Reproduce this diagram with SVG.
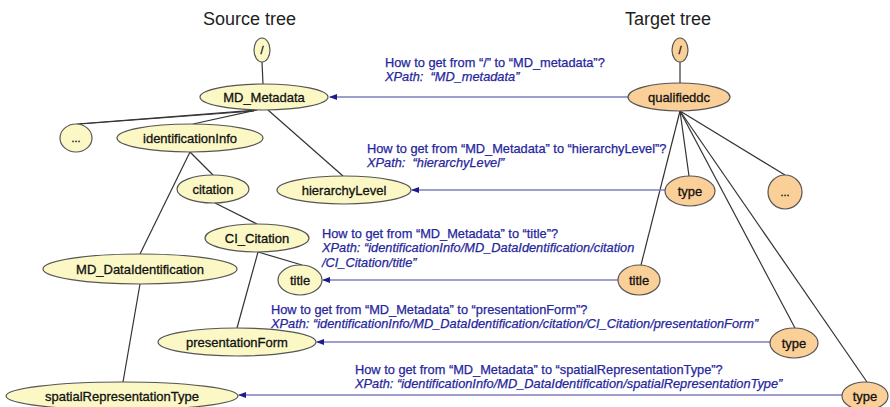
<svg xmlns="http://www.w3.org/2000/svg" width="890" height="407" viewBox="0 0 890 407">
  <style>
    .title { font-family: "Liberation Sans", Arial, sans-serif; font-size: 18px; fill: #222; }
    .src ellipse { fill: #fbf8c6; stroke: #555; stroke-width: 1.2; }
    .tgt ellipse { fill: #fbcf98; stroke: #555; stroke-width: 1.2; }
    .lbl { font-family: "Liberation Sans", Arial, sans-serif; font-size: 13px; fill: #111; stroke: #111; stroke-width: 0.3; text-anchor: middle; dominant-baseline: central; }
    .small { font-size: 11px; }
    .edge { stroke: #333; stroke-width: 1.2; fill: none; }
    .map { stroke: #7f7fbf; stroke-width: 1.6; fill: none; marker-end: url(#arr); }
    .q { font-family: "Liberation Sans", Arial, sans-serif; font-size: 12.8px; fill: #26269c; stroke: #26269c; stroke-width: 0.25; }
    .xp { font-style: italic; }
  </style>
  <defs>
    <marker id="arr" markerWidth="8" markerHeight="6" refX="7" refY="3" orient="auto" markerUnits="userSpaceOnUse">
      <path d="M0,0 L8,3 L0,6 Z" fill="#1c1c8a"/>
    </marker>
  </defs>

  <rect width="890" height="407" fill="#ffffff"/>

  <text class="title" x="203" y="25">Source tree</text>
  <text class="title" x="625" y="25">Target tree</text>

  <!-- tree edges -->
  <g id="tree-edges">
    <line class="edge" x1="262" y1="62" x2="263" y2="84"/>
    <line class="edge" x1="257" y1="110" x2="77" y2="124"/>
    <line class="edge" x1="254" y1="111" x2="80" y2="124"/>
    <line class="edge" x1="257" y1="110" x2="193" y2="124"/>
    <line class="edge" x1="268" y1="110" x2="343" y2="176"/>
    <line class="edge" x1="190" y1="152" x2="213" y2="175"/>
    <line class="edge" x1="190" y1="152" x2="140" y2="254"/>
    <line class="edge" x1="215" y1="203" x2="257" y2="224"/>
    <line class="edge" x1="258" y1="252" x2="302" y2="265"/>
    <line class="edge" x1="258" y1="252" x2="237" y2="328"/>
    <line class="edge" x1="140" y1="284" x2="123" y2="382"/>

    <line class="edge" x1="680" y1="62" x2="680" y2="83"/>
    <line class="edge" x1="680" y1="111" x2="641" y2="265"/>
    <line class="edge" x1="680" y1="111" x2="689" y2="176"/>
    <line class="edge" x1="680" y1="111" x2="795" y2="328"/>
    <line class="edge" x1="680" y1="111" x2="867" y2="382"/>
    <line class="edge" x1="680" y1="111" x2="785" y2="175"/>
  </g>

  <!-- mapping connectors -->
  <g id="mappings">
    <line class="map" x1="628" y1="97" x2="330" y2="97"/>
    <line class="map" x1="665" y1="190" x2="412" y2="190"/>
    <line class="map" x1="618" y1="280" x2="323" y2="280"/>
    <line class="map" x1="770" y1="342" x2="317" y2="342"/>
    <line class="map" x1="842" y1="395" x2="239" y2="395"/>
  </g>

  <!-- mapping labels -->
  <g id="mapping-labels">
    <text class="q" x="385" y="67">How to get from “/” to “MD_metadata”?</text>
    <text class="q xp" x="385" y="81">XPath:&#160; “MD_metadata”</text>

    <text class="q" x="367" y="153">How to get from “MD_Metadata” to “hierarchyLevel”?</text>
    <text class="q xp" x="367" y="167">XPath:&#160; “hierarchyLevel”</text>

    <text class="q" x="322" y="238">How to get from “MD_Metadata” to “title”?</text>
    <text class="q xp" x="322" y="252">XPath: “identificationInfo/MD_DataIdentification/citation</text>
    <text class="q xp" x="322" y="267">/CI_Citation/title”</text>

    <text class="q" x="271" y="314">How to get from “MD_Metadata” to “presentationForm”?</text>
    <text class="q xp" x="271" y="328">XPath: “identificationInfo/MD_DataIdentification/citation/CI_Citation/presentationForm”</text>

    <text class="q" x="355" y="374">How to get from “MD_Metadata” to “spatialRepresentationType”?</text>
    <text class="q xp" x="355" y="388">XPath: “identificationInfo/MD_DataIdentification/spatialRepresentationType”</text>
  </g>

  <!-- source tree nodes -->
  <g class="src">
    <g id="src-root"><ellipse cx="262" cy="50" rx="8" ry="12"/><text class="lbl small" x="262" y="50">/</text></g>
    <g id="src-md-metadata"><ellipse cx="264" cy="97" rx="64" ry="13"/><text class="lbl" x="264" y="97">MD_Metadata</text></g>
    <g id="src-more"><ellipse cx="76" cy="138" rx="16" ry="14"/><text class="lbl small" x="76" y="138">...</text></g>
    <g id="src-identificationinfo"><ellipse cx="190" cy="138" rx="73" ry="14"/><text class="lbl" x="190" y="138">identificationInfo</text></g>
    <g id="src-hierarchylevel"><ellipse cx="344" cy="190" rx="67" ry="14"/><text class="lbl" x="344" y="190">hierarchyLevel</text></g>
    <g id="src-citation"><ellipse cx="213" cy="189" rx="36" ry="14"/><text class="lbl" x="213" y="189">citation</text></g>
    <g id="src-ci-citation"><ellipse cx="257" cy="238" rx="52" ry="14"/><text class="lbl" x="257" y="238">CI_Citation</text></g>
    <g id="src-md-dataidentification"><ellipse cx="140" cy="269" rx="97" ry="15"/><text class="lbl" x="140" y="269">MD_DataIdentification</text></g>
    <g id="src-title"><ellipse cx="300" cy="280" rx="22" ry="15"/><text class="lbl" x="300" y="280">title</text></g>
    <g id="src-presentationform"><ellipse cx="237" cy="342" rx="79" ry="14"/><text class="lbl" x="237" y="342">presentationForm</text></g>
    <g id="src-spatialrepresentationtype"><ellipse cx="122" cy="396" rx="116" ry="14"/><text class="lbl" x="122" y="396">spatialRepresentationType</text></g>
  </g>

  <!-- target tree nodes -->
  <g class="tgt">
    <g id="tgt-root"><ellipse cx="680" cy="50" rx="8" ry="12"/><text class="lbl small" x="680" y="50">/</text></g>
    <g id="tgt-qualifieddc"><ellipse cx="679" cy="97" rx="51" ry="14"/><text class="lbl" x="679" y="97">qualifieddc</text></g>
    <g id="tgt-type-1"><ellipse cx="690" cy="191" rx="25" ry="15"/><text class="lbl" x="690" y="191">type</text></g>
    <g id="tgt-more"><ellipse cx="785" cy="192" rx="17" ry="17"/><text class="lbl small" x="785" y="192">...</text></g>
    <g id="tgt-title"><ellipse cx="639" cy="280" rx="21" ry="15"/><text class="lbl" x="639" y="280">title</text></g>
    <g id="tgt-type-2"><ellipse cx="794" cy="343" rx="24" ry="15"/><text class="lbl" x="794" y="343">type</text></g>
    <g id="tgt-type-3"><ellipse cx="865" cy="396" rx="23" ry="14"/><text class="lbl" x="865" y="396">type</text></g>
  </g>
</svg>
